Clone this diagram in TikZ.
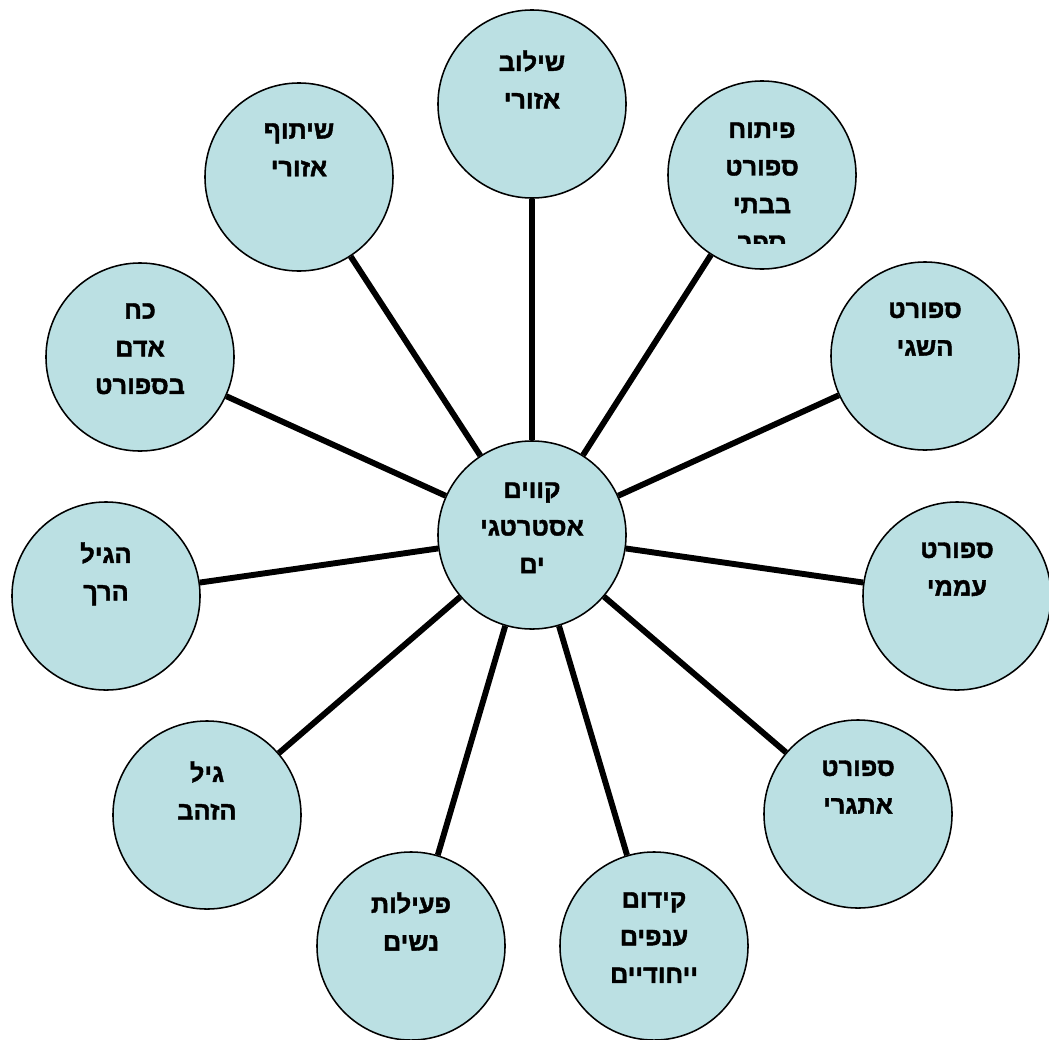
\documentclass[tikz,border=0pt]{standalone}
\usepackage{fontspec}
\newfontfamily\hebfont[Script=Hebrew, FakeBold=1.6]{Liberation Sans Bold}
\TeXXeTstate=1
\usepackage{tikz}
\usepackage{xcolor}
\definecolor{bubblefill}{RGB}{187,224,227}

\begin{document}
\begin{tikzpicture}[x=0.025cm, y=-0.025cm]
  % circles are placed at pixel positions, text hangs from the top of each circle
  \tikzstyle{bubble}=[circle, draw=black, line width=1.1pt, fill=bubblefill, minimum size=4.7cm, inner sep=0pt]
  \tikzstyle{bubbletext}=[anchor=north, align=center, inner sep=0pt, font={\hebfont\fontsize{18}{26.8}\selectfont}, execute at begin node={\strut}]
  \tikzstyle{spoke}=[black, line width=4.2pt]
  \useasboundingbox (0,0) rectangle (1049,1039);

  \node[bubble] (hub) at (532,535) {};
  \node[bubbletext] (hub-t) at ([yshift=1.32cm]hub) {\beginR קווים\endR\\\beginR אסטרטגי\endR\\\beginR ים\endR};

  \node[bubble] (shiluv) at (532,104) {};
  \node[bubbletext] (shiluv-t) at ([yshift=1.35cm]shiluv) {\beginR שילוב\endR\\\beginR אזורי\endR};

  \node[bubble] (pituach) at (762,175) {};
  \begin{scope}
    \clip (650,60) rectangle (880,243);
    \node[bubbletext] (pituach-t) at ([yshift=1.32cm]pituach) {\beginR פיתוח\endR\\\beginR ספורט\endR\\\beginR בבתי\endR\\\beginR ספר\endR};
  \end{scope}

  \node[bubble] (hesegi) at (925,356) {};
  \node[bubbletext] (hesegi-t) at ([yshift=1.35cm]hesegi) {\beginR ספורט\endR\\\beginR השגי\endR};

  \node[bubble] (amami) at (957,596) {};
  \node[bubbletext] (amami-t) at ([yshift=1.35cm]amami) {\beginR ספורט\endR\\\beginR עממי\endR};

  \node[bubble] (etgari) at (858,814) {};
  \node[bubbletext] (etgari-t) at ([yshift=1.35cm]etgari) {\beginR ספורט\endR\\\beginR אתגרי\endR};

  \node[bubble] (kidum) at (654,946) {};
  \node[bubbletext] (kidum-t) at ([yshift=1.35cm]kidum) {\beginR קידום\endR\\\beginR ענפים\endR\\\beginR ייחודיים\endR};

  \node[bubble] (nashim) at (411,946) {};
  \node[bubbletext] (nashim-t) at ([yshift=1.35cm]nashim) {\beginR פעילות\endR\\\beginR נשים\endR};

  \node[bubble] (zahav) at (207,815) {};
  \node[bubbletext] (zahav-t) at ([yshift=1.35cm]zahav) {\beginR גיל\endR\\\beginR הזהב\endR};

  \node[bubble] (rach) at (106,596) {};
  \node[bubbletext] (rach-t) at ([yshift=1.35cm]rach) {\beginR הגיל\endR\\\beginR הרך\endR};

  \node[bubble] (koach) at (140,357) {};
  \node[bubbletext] (koach-t) at ([yshift=1.35cm]koach) {\beginR כח\endR\\\beginR אדם\endR\\\beginR בספורט\endR};

  \node[bubble] (shituf) at (299,177) {};
  \node[bubbletext] (shituf-t) at ([yshift=1.35cm]shituf) {\beginR שיתוף\endR\\\beginR אזורי\endR};

  % spokes from the hub out to every circle
  \draw[spoke] (hub) -- (shiluv);
  \draw[spoke] (hub) -- (pituach);
  \draw[spoke] (hub) -- (hesegi);
  \draw[spoke] (hub) -- (amami);
  \draw[spoke] (hub) -- (etgari);
  \draw[spoke] (hub) -- (kidum);
  \draw[spoke] (hub) -- (nashim);
  \draw[spoke] (hub) -- (zahav);
  \draw[spoke] (hub) -- (rach);
  \draw[spoke] (hub) -- (koach);
  \draw[spoke] (hub) -- (shituf);
\end{tikzpicture}
\end{document}
